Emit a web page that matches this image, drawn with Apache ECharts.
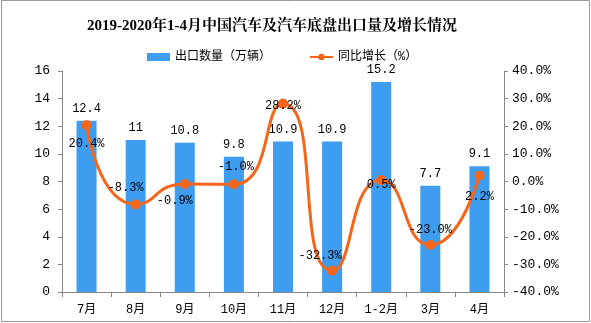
<!DOCTYPE html>
<html><head><meta charset="utf-8">
<script src="https://cdn.jsdelivr.net/npm/echarts@6/dist/echarts.min.js"></script>
<style>html,body{margin:0;padding:0;background:#fff}#c{width:591px;height:323px}</style>
</head><body><div id="c"></div>
<script>
const categories = ['7月','8月','9月','10月','11月','12月','1-2月','3月','4月'];
const exportVolume = [12.4, 11, 10.8, 9.8, 10.9, 10.9, 15.2, 7.7, 9.1];
const growthRate = [20.4, -8.3, -0.9, -1.0, 28.2, -32.3, 0.5, -23.0, 2.2];
const growthLabelPos = ['bottom','top','bottom','top','inside','top','inside','top','bottom'];
const growthLabelOffset = [[0,2],[-10,0],[-10,0],[2,0],[0,2],[-12,2],[0,5],[0,2],[0,4]];

const FONT = "'Liberation Mono','Noto Sans CJK SC',monospace";
const chart = echarts.init(document.getElementById('c'));
chart.setOption({
  animation: false,
  title: {
    text: '2019-2020年1-4月中国汽车及汽车底盘出口量及增长情况',
    left: 82, top: 14,
    textStyle: {fontSize: 15, fontWeight: 'bold', color: '#000', fontFamily: "'Liberation Serif','Noto Serif CJK SC','Noto Sans CJK SC',serif"}
  },
  legend: {
    top: 46, left: 142, itemGap: 38, itemWidth: 23, itemHeight: 8,
    textStyle: {fontSize: 12, color: '#000', fontFamily: FONT},
    data: [{name: '出口数量（万辆）', icon: 'rect'}, {name: '同比增长（%）'}]
  },
  grid: {left: 62, right: 87, top: 71, bottom: 31},
  xAxis: {
    type: 'category', data: categories,
    axisLine: {lineStyle: {color: '#888'}},
    axisTick: {show: true, length: 5, lineStyle: {color: '#888'}},
    axisLabel: {color: '#000', fontSize: 12, margin: 12, fontFamily: FONT}
  },
  yAxis: [
    {type: 'value', min: 0, max: 16, interval: 2,
     axisLine: {show: true, lineStyle: {color: '#888'}},
     axisTick: {show: true, length: 4, lineStyle: {color: '#888'}},
     splitLine: {show: false},
     axisLabel: {color: '#000', fontSize: 13, margin: 12, fontFamily: FONT}},
    {type: 'value', min: -40, max: 40, interval: 10,
     axisLine: {show: true, lineStyle: {color: '#888'}},
     axisTick: {show: true, length: 4, lineStyle: {color: '#888'}},
     splitLine: {show: false},
     axisLabel: {color: '#000', fontSize: 13, margin: 8, fontFamily: FONT,
       formatter: v => v.toFixed(1) + '%'}}
  ],
  series: [
    {name: '出口数量（万辆）', type: 'bar', data: exportVolume, barWidth: 20,
     itemStyle: {color: '#3E9DF0'},
     label: {show: true, position: 'top', distance: 6, color: '#000', fontSize: 12, fontFamily: FONT}},
    {name: '同比增长（%）', type: 'line', yAxisIndex: 1, smooth: 0.6,
     symbol: 'circle', symbolSize: 10,
     lineStyle: {color: '#F5661B', width: 3},
     itemStyle: {color: '#F5661B'},
     data: growthRate.map((v, i) => ({value: v, label: {position: growthLabelPos[i], offset: growthLabelOffset[i]}})),
     label: {show: true, color: '#000', fontSize: 12, fontFamily: FONT, distance: 6,
       formatter: p => p.value.toFixed(1) + '%'}}
  ],
  graphic: [{type: 'rect', shape: {x: 1.5, y: 0.5, width: 588, height: 321}, style: {fill: 'none', stroke: '#999', lineWidth: 1}, silent: true}]
});
</script></body></html>
